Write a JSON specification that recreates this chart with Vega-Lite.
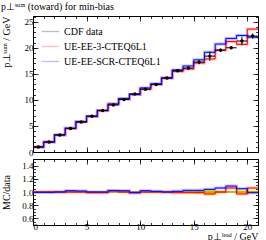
{
  "$schema": "https://vega.github.io/schema/vega-lite/v6.json",
  "padding": {"left": 0, "top": 1, "right": 0, "bottom": 0},
  "spacing": 0,
  "config": {
    "font": "Liberation Serif",
    "view": {"stroke": "black", "strokeWidth": 1},
    "axis": {"grid": false, "domain": false, "labelFont": "Liberation Serif", "labelFontSize": 9, "labelColor": "black", "tickColor": "black", "tickWidth": 0.8, "titleFont": "Liberation Serif", "titleFontSize": 10, "titleFontWeight": "normal", "titleColor": "black"},
    "legend": {"orient": "none", "legendX": 8, "legendY": 6, "symbolType": "stroke", "symbolSize": 300, "symbolStrokeWidth": 1.3, "labelFont": "Liberation Serif", "labelFontSize": 10, "labelColor": "black", "rowPadding": -1.5, "labelOffset": 4}
  },
  "datasets": {
    "pts": [
      {"src": "CDF data", "x": 0.5, "xlo": 0, "xhi": 1, "y": 0.96, "ylo": 0.92, "yhi": 1.0, "rlo": 0.988, "rhi": 1.012},
      {"src": "CDF data", "x": 1.5, "xlo": 1, "xhi": 2, "y": 1.92, "ylo": 1.87, "yhi": 1.97, "rlo": 0.988, "rhi": 1.012},
      {"src": "CDF data", "x": 2.5, "xlo": 2, "xhi": 3, "y": 3.27, "ylo": 3.21, "yhi": 3.33, "rlo": 0.988, "rhi": 1.012},
      {"src": "CDF data", "x": 3.5, "xlo": 3, "xhi": 4, "y": 4.5, "ylo": 4.42, "yhi": 4.58, "rlo": 0.988, "rhi": 1.012},
      {"src": "CDF data", "x": 4.5, "xlo": 4, "xhi": 5, "y": 5.74, "ylo": 5.66, "yhi": 5.82, "rlo": 0.988, "rhi": 1.012},
      {"src": "CDF data", "x": 5.5, "xlo": 5, "xhi": 6, "y": 6.88, "ylo": 6.78, "yhi": 6.98, "rlo": 0.988, "rhi": 1.012},
      {"src": "CDF data", "x": 6.5, "xlo": 6, "xhi": 7, "y": 7.98, "ylo": 7.88, "yhi": 8.08, "rlo": 0.988, "rhi": 1.012},
      {"src": "CDF data", "x": 7.5, "xlo": 7, "xhi": 8, "y": 9.02, "ylo": 8.9, "yhi": 9.14, "rlo": 0.988, "rhi": 1.012},
      {"src": "CDF data", "x": 8.5, "xlo": 8, "xhi": 9, "y": 10.08, "ylo": 9.96, "yhi": 10.2, "rlo": 0.988, "rhi": 1.012},
      {"src": "CDF data", "x": 9.5, "xlo": 9, "xhi": 10, "y": 11.15, "ylo": 11.01, "yhi": 11.29, "rlo": 0.988, "rhi": 1.012},
      {"src": "CDF data", "x": 10.5, "xlo": 10, "xhi": 11, "y": 12.06, "ylo": 11.91, "yhi": 12.21, "rlo": 0.988, "rhi": 1.012},
      {"src": "CDF data", "x": 11.5, "xlo": 11, "xhi": 12, "y": 12.96, "ylo": 12.78, "yhi": 13.14, "rlo": 0.988, "rhi": 1.012},
      {"src": "CDF data", "x": 12.5, "xlo": 12, "xhi": 13, "y": 14.2, "ylo": 14.0, "yhi": 14.4, "rlo": 0.988, "rhi": 1.012},
      {"src": "CDF data", "x": 13.5, "xlo": 13, "xhi": 14, "y": 15.6, "ylo": 15.35, "yhi": 15.85, "rlo": 0.988, "rhi": 1.012},
      {"src": "CDF data", "x": 14.5, "xlo": 14, "xhi": 15, "y": 16.1, "ylo": 15.8, "yhi": 16.4, "rlo": 0.98, "rhi": 1.02},
      {"src": "CDF data", "x": 15.5, "xlo": 15, "xhi": 16, "y": 17.25, "ylo": 16.85, "yhi": 17.65, "rlo": 0.97, "rhi": 1.03},
      {"src": "CDF data", "x": 16.5, "xlo": 16, "xhi": 17, "y": 18.4, "ylo": 17.5, "yhi": 19.3, "rlo": 0.95, "rhi": 1.05},
      {"src": "CDF data", "x": 17.5, "xlo": 17, "xhi": 18, "y": 19.55, "ylo": 19.25, "yhi": 19.85, "rlo": 0.98, "rhi": 1.02},
      {"src": "CDF data", "x": 18.5, "xlo": 18, "xhi": 19, "y": 20.0, "ylo": 19.7, "yhi": 20.3, "rlo": 0.985, "rhi": 1.015},
      {"src": "CDF data", "x": 19.5, "xlo": 19, "xhi": 20, "y": 21.3, "ylo": 20.5, "yhi": 22.1, "rlo": 0.965, "rhi": 1.035},
      {"src": "CDF data", "x": 20.5, "xlo": 20, "xhi": 21, "y": 22.25, "ylo": 21.75, "yhi": 22.75, "rlo": 0.975, "rhi": 1.025}
    ],
    "mc": [
      {"gen": "UE-EE-3-CTEQ6L1", "x": 0, "y": 0.96, "r": 1.0},
      {"gen": "UE-EE-3-CTEQ6L1", "x": 1, "y": 1.92, "r": 1.0},
      {"gen": "UE-EE-3-CTEQ6L1", "x": 2, "y": 3.27, "r": 1.0},
      {"gen": "UE-EE-3-CTEQ6L1", "x": 3, "y": 4.5, "r": 1.0},
      {"gen": "UE-EE-3-CTEQ6L1", "x": 4, "y": 5.74, "r": 1.0},
      {"gen": "UE-EE-3-CTEQ6L1", "x": 5, "y": 6.81, "r": 0.99},
      {"gen": "UE-EE-3-CTEQ6L1", "x": 6, "y": 7.9, "r": 0.99},
      {"gen": "UE-EE-3-CTEQ6L1", "x": 7, "y": 9.2, "r": 1.02},
      {"gen": "UE-EE-3-CTEQ6L1", "x": 8, "y": 10.08, "r": 1.0},
      {"gen": "UE-EE-3-CTEQ6L1", "x": 9, "y": 11.04, "r": 0.99},
      {"gen": "UE-EE-3-CTEQ6L1", "x": 10, "y": 12.06, "r": 1.0},
      {"gen": "UE-EE-3-CTEQ6L1", "x": 11, "y": 12.96, "r": 1.0},
      {"gen": "UE-EE-3-CTEQ6L1", "x": 12, "y": 14.2, "r": 1.0},
      {"gen": "UE-EE-3-CTEQ6L1", "x": 13, "y": 15.44, "r": 0.99},
      {"gen": "UE-EE-3-CTEQ6L1", "x": 14, "y": 15.94, "r": 0.99},
      {"gen": "UE-EE-3-CTEQ6L1", "x": 15, "y": 17.08, "r": 0.99},
      {"gen": "UE-EE-3-CTEQ6L1", "x": 16, "y": 17.85, "r": 0.97},
      {"gen": "UE-EE-3-CTEQ6L1", "x": 17, "y": 19.55, "r": 1.0},
      {"gen": "UE-EE-3-CTEQ6L1", "x": 18, "y": 21.2, "r": 1.06},
      {"gen": "UE-EE-3-CTEQ6L1", "x": 19, "y": 20.66, "r": 0.97},
      {"gen": "UE-EE-3-CTEQ6L1", "x": 20, "y": 23.59, "r": 1.06},
      {"gen": "UE-EE-3-CTEQ6L1", "x": 21, "y": 23.59, "r": 1.06},
      {"gen": "UE-EE-SCR-CTEQ6L1", "x": 0, "y": 0.955, "r": 0.995},
      {"gen": "UE-EE-SCR-CTEQ6L1", "x": 1, "y": 1.91, "r": 0.995},
      {"gen": "UE-EE-SCR-CTEQ6L1", "x": 2, "y": 3.27, "r": 1.0},
      {"gen": "UE-EE-SCR-CTEQ6L1", "x": 3, "y": 4.59, "r": 1.02},
      {"gen": "UE-EE-SCR-CTEQ6L1", "x": 4, "y": 5.83, "r": 1.015},
      {"gen": "UE-EE-SCR-CTEQ6L1", "x": 5, "y": 6.88, "r": 1.0},
      {"gen": "UE-EE-SCR-CTEQ6L1", "x": 6, "y": 7.98, "r": 1.0},
      {"gen": "UE-EE-SCR-CTEQ6L1", "x": 7, "y": 9.2, "r": 1.02},
      {"gen": "UE-EE-SCR-CTEQ6L1", "x": 8, "y": 10.28, "r": 1.02},
      {"gen": "UE-EE-SCR-CTEQ6L1", "x": 9, "y": 11.04, "r": 0.99},
      {"gen": "UE-EE-SCR-CTEQ6L1", "x": 10, "y": 12.3, "r": 1.02},
      {"gen": "UE-EE-SCR-CTEQ6L1", "x": 11, "y": 13.09, "r": 1.01},
      {"gen": "UE-EE-SCR-CTEQ6L1", "x": 12, "y": 14.2, "r": 1.0},
      {"gen": "UE-EE-SCR-CTEQ6L1", "x": 13, "y": 15.76, "r": 1.01},
      {"gen": "UE-EE-SCR-CTEQ6L1", "x": 14, "y": 16.5, "r": 1.025},
      {"gen": "UE-EE-SCR-CTEQ6L1", "x": 15, "y": 17.68, "r": 1.025},
      {"gen": "UE-EE-SCR-CTEQ6L1", "x": 16, "y": 19.14, "r": 1.04},
      {"gen": "UE-EE-SCR-CTEQ6L1", "x": 17, "y": 20.72, "r": 1.06},
      {"gen": "UE-EE-SCR-CTEQ6L1", "x": 18, "y": 21.8, "r": 1.09},
      {"gen": "UE-EE-SCR-CTEQ6L1", "x": 19, "y": 22.37, "r": 1.05},
      {"gen": "UE-EE-SCR-CTEQ6L1", "x": 20, "y": 22.03, "r": 0.99},
      {"gen": "UE-EE-SCR-CTEQ6L1", "x": 21, "y": 22.03, "r": 0.99}
    ]
  },
  "resolve": {"scale": {"color": "independent"}},
  "vconcat": [
    {
      "width": 225,
      "height": 136,
      "title": {"text": "p⊥ˢᵘᵐ (toward) for min-bias", "anchor": "start", "fontSize": 10, "fontWeight": "normal", "font": "Liberation Serif", "color": "black", "offset": 4},
      "resolve": {"axis": {"x": "independent", "y": "independent"}},
      "layer": [
        {
          "data": {"name": "mc"},
          "mark": {"type": "line", "interpolate": "step-after", "strokeWidth": 3, "opacity": 0.25},
          "encoding": {
            "x": {"field": "x", "type": "quantitative", "scale": {"domain": [0, 21], "nice": false, "zero": false}, "axis": {"orient": "bottom", "values": [0, 5, 10, 15, 20], "labels": false, "tickSize": -5, "title": null}},
            "y": {"field": "y", "type": "quantitative", "scale": {"domain": [0, 26.1], "nice": false}, "axis": {"orient": "left", "values": [0, 5, 10, 15, 20, 25], "tickSize": -5, "labelPadding": 5, "title": "p⊥ˢᵘᵐ / GeV", "titleAnchor": "end", "titleX": -22}},
            "color": {"field": "gen", "type": "nominal", "scale": {"domain": ["CDF data", "UE-EE-3-CTEQ6L1", "UE-EE-SCR-CTEQ6L1"], "range": ["black", "#ff0000", "#0000ff"]}, "legend": {"title": null}}
          }
        },
        {
          "data": {"name": "mc"},
          "mark": {"type": "line", "interpolate": "step-after", "strokeWidth": 1},
          "encoding": {
            "x": {"field": "x", "type": "quantitative", "scale": {"domain": [0, 21], "nice": false, "zero": false}, "axis": {"orient": "bottom", "values": [0,1,2,3,4,5,6,7,8,9,10,11,12,13,14,15,16,17,18,19,20,21], "labels": false, "tickSize": -2.5, "title": null}},
            "y": {"field": "y", "type": "quantitative", "scale": {"domain": [0, 26.1], "nice": false}, "axis": {"orient": "left", "values": [0,1,2,3,4,5,6,7,8,9,10,11,12,13,14,15,16,17,18,19,20,21,22,23,24,25,26], "labels": false, "tickSize": -2.5, "title": null}},
            "color": {"field": "gen", "type": "nominal", "scale": {"domain": ["CDF data", "UE-EE-3-CTEQ6L1", "UE-EE-SCR-CTEQ6L1"], "range": ["black", "#ff0000", "#0000ff"]}, "legend": {"title": null}}
          }
        },
        {
          "data": {"name": "pts"},
          "mark": {"type": "rule", "strokeWidth": 1},
          "encoding": {
            "x": {"field": "xlo", "type": "quantitative", "scale": {"domain": [0, 21], "nice": false, "zero": false}, "axis": {"orient": "top", "values": [0, 5, 10, 15, 20], "labels": false, "tickSize": -5, "title": null}},
            "x2": {"field": "xhi"},
            "y": {"field": "y", "type": "quantitative", "scale": {"domain": [0, 26.1], "nice": false}, "axis": {"orient": "right", "values": [0, 5, 10, 15, 20, 25], "labels": false, "tickSize": -5, "title": null}},
            "color": {"field": "src", "type": "nominal", "scale": {"domain": ["CDF data", "UE-EE-3-CTEQ6L1", "UE-EE-SCR-CTEQ6L1"], "range": ["black", "#ff0000", "#0000ff"]}, "legend": {"title": null}}
          }
        },
        {
          "data": {"name": "pts"},
          "mark": {"type": "rule", "strokeWidth": 1},
          "encoding": {
            "x": {"field": "x", "type": "quantitative", "scale": {"domain": [0, 21], "nice": false, "zero": false}, "axis": {"orient": "top", "values": [0,1,2,3,4,5,6,7,8,9,10,11,12,13,14,15,16,17,18,19,20,21], "labels": false, "tickSize": -2.5, "title": null}},
            "y": {"field": "ylo", "type": "quantitative", "scale": {"domain": [0, 26.1], "nice": false}, "axis": {"orient": "right", "values": [0,1,2,3,4,5,6,7,8,9,10,11,12,13,14,15,16,17,18,19,20,21,22,23,24,25,26], "labels": false, "tickSize": -2.5, "title": null}},
            "y2": {"field": "yhi"},
            "color": {"field": "src", "type": "nominal", "scale": {"domain": ["CDF data", "UE-EE-3-CTEQ6L1", "UE-EE-SCR-CTEQ6L1"], "range": ["black", "#ff0000", "#0000ff"]}, "legend": {"title": null}}
          }
        },
        {
          "data": {"name": "pts"},
          "mark": {"type": "point", "filled": true, "size": 12, "opacity": 1},
          "encoding": {
            "x": {"field": "x", "type": "quantitative", "scale": {"domain": [0, 21], "nice": false, "zero": false}, "axis": null},
            "y": {"field": "y", "type": "quantitative", "scale": {"domain": [0, 26.1], "nice": false}, "axis": null},
            "color": {"field": "src", "type": "nominal", "scale": {"domain": ["CDF data", "UE-EE-3-CTEQ6L1", "UE-EE-SCR-CTEQ6L1"], "range": ["black", "#ff0000", "#0000ff"]}, "legend": {"title": null}}
          }
        }
      ]
    },
    {
      "width": 225,
      "height": 66,
      "resolve": {"axis": {"x": "independent", "y": "independent"}},
      "layer": [
        {
          "data": {"name": "pts"},
          "mark": {"type": "rect", "color": "#ffff00"},
          "encoding": {
            "x": {"field": "xlo", "type": "quantitative", "scale": {"domain": [0, 21], "nice": false, "zero": false}, "axis": {"orient": "bottom", "values": [0, 5, 10, 15, 20], "tickSize": -5, "labelPadding": 2, "title": "p⊥ˡᵉᵃᵈ / GeV", "titleAnchor": "end", "titlePadding": 0}},
            "x2": {"field": "xhi"},
            "y": {"field": "rlo", "type": "quantitative", "scale": {"domain": [0.5, 1.5], "nice": false, "zero": false}, "axis": {"orient": "left", "values": [0.6, 0.8, 1, 1.2, 1.4], "tickSize": -5, "labelPadding": 5, "title": "MC/data", "titleAnchor": "middle", "titleX": -22}},
            "y2": {"field": "rhi"}
          }
        },
        {
          "data": {"name": "mc"},
          "mark": {"type": "line", "interpolate": "step-after", "strokeWidth": 3, "opacity": 0.25},
          "encoding": {
            "x": {"field": "x", "type": "quantitative", "scale": {"domain": [0, 21], "nice": false, "zero": false}, "axis": {"orient": "bottom", "values": [0,1,2,3,4,5,6,7,8,9,10,11,12,13,14,15,16,17,18,19,20,21], "labels": false, "tickSize": -2.5, "title": null}},
            "y": {"field": "r", "type": "quantitative", "scale": {"domain": [0.5, 1.5], "nice": false, "zero": false}, "axis": {"orient": "left", "values": [0.5,0.55,0.6,0.65,0.7,0.75,0.8,0.85,0.9,0.95,1,1.05,1.1,1.15,1.2,1.25,1.3,1.35,1.4,1.45,1.5], "labels": false, "tickSize": -2.5, "title": null}},
            "color": {"field": "gen", "type": "nominal", "scale": {"domain": ["CDF data", "UE-EE-3-CTEQ6L1", "UE-EE-SCR-CTEQ6L1"], "range": ["black", "#ff0000", "#0000ff"]}, "legend": null}
          }
        },
        {
          "data": {"name": "pts"},
          "mark": {"type": "rule", "strokeWidth": 0.8, "color": "#555555"},
          "encoding": {
            "x": {"field": "xlo", "type": "quantitative", "scale": {"domain": [0, 21], "nice": false, "zero": false}, "axis": {"orient": "top", "values": [0,1,2,3,4,5,6,7,8,9,10,11,12,13,14,15,16,17,18,19,20,21], "labels": false, "tickSize": -2.5, "title": null}},
            "x2": {"field": "xhi"},
            "y": {"datum": 1, "type": "quantitative", "scale": {"domain": [0.5, 1.5], "nice": false, "zero": false}, "axis": {"orient": "right", "values": [0.5,0.55,0.6,0.65,0.7,0.75,0.8,0.85,0.9,0.95,1,1.05,1.1,1.15,1.2,1.25,1.3,1.35,1.4,1.45,1.5], "labels": false, "tickSize": -2.5, "title": null}}
          }
        },
        {
          "data": {"name": "mc"},
          "mark": {"type": "line", "interpolate": "step-after", "strokeWidth": 1},
          "encoding": {
            "x": {"field": "x", "type": "quantitative", "scale": {"domain": [0, 21], "nice": false, "zero": false}, "axis": {"orient": "top", "values": [0, 5, 10, 15, 20], "labels": false, "tickSize": -5, "title": null}},
            "y": {"field": "r", "type": "quantitative", "scale": {"domain": [0.5, 1.5], "nice": false, "zero": false}, "axis": {"orient": "right", "values": [0.6, 0.8, 1, 1.2, 1.4], "labels": false, "tickSize": -5, "title": null}},
            "color": {"field": "gen", "type": "nominal", "scale": {"domain": ["CDF data", "UE-EE-3-CTEQ6L1", "UE-EE-SCR-CTEQ6L1"], "range": ["black", "#ff0000", "#0000ff"]}, "legend": null}
          }
        }
      ]
    }
  ]
}
